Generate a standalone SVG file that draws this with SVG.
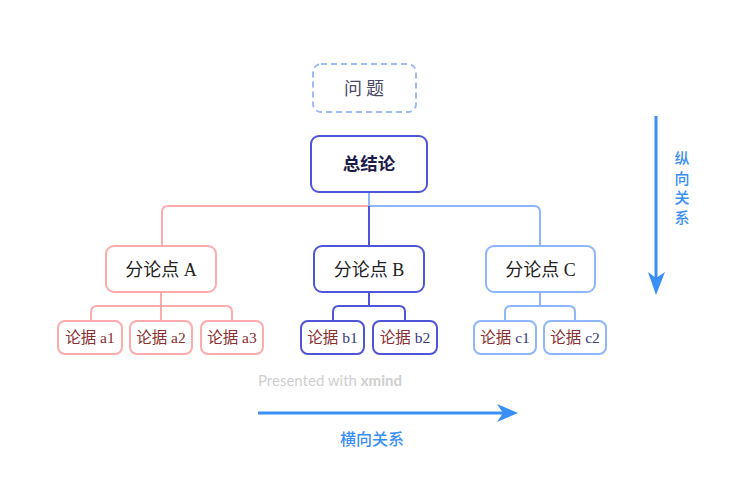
<svg xmlns="http://www.w3.org/2000/svg" width="752" height="492" viewBox="0 0 752 492">
<style>
.box{fill:#fff;stroke-width:2}
.pink{stroke:#ffabab}
.lblue{stroke:#8db6ff}
.indigo{stroke:#4f55d8}
.conn{fill:none;stroke-width:2}
.mid{font-family:"Liberation Serif","Noto Sans CJK SC",serif;font-size:18px;fill:#222;text-anchor:middle}
.leaf{font-family:"Liberation Serif","Noto Sans CJK SC",serif;font-size:15.5px;text-anchor:middle}
.cn{fill:#8a2e2e}
.lat{fill:#363a7a}
.blue{fill:#3a8ff7}
</style>
<rect width="752" height="492" fill="#fff"/>
<g id="connectors">
<path class="conn pink" d="M369,206 H168 Q162,206 162,212 V246"/>
<path class="conn lblue" d="M369,192 V206 H534 Q540,206 540,212 V246"/>
<path class="conn indigo" d="M369,206 V246"/>
<path class="conn pink" d="M161,292 V306 M161,306 H97 Q91,306 91,312 V321 M161,306 H226 Q232,306 232,312 V321 M161,306 V321"/>
<path class="conn indigo" d="M369,292 V306 M369,306 H339 Q333,306 333,312 V321 M369,306 H399 Q405,306 405,312 V321"/>
<path class="conn lblue" d="M540,292 V306 M540,306 H511 Q505,306 505,312 V321 M540,306 H569 Q575,306 575,312 V321"/>
</g>
<g id="question">
<rect x="313" y="64" width="103" height="48" rx="8" fill="#fff" stroke="#9dbcf5" stroke-width="2" stroke-dasharray="6,4"/>
<text x="366" y="95" font-family="'Noto Sans CJK SC',sans-serif" font-size="18" fill="#4a4a68" text-anchor="middle" letter-spacing="4">问题</text>
</g>
<g id="conclusion">
<rect class="box indigo" x="311" y="136" width="116" height="56" rx="8"/>
<text x="369" y="170" font-family="'Noto Sans CJK SC',sans-serif" font-size="17.5" font-weight="bold" fill="#1c1c48" text-anchor="middle">总结论</text>
</g>
<g id="pointA">
<rect class="box pink" x="106" y="246" width="110" height="46" rx="8"/>
<text class="mid" x="161" y="276">分论点 A</text>
</g>
<g id="pointB">
<rect class="box indigo" x="314" y="246" width="110" height="46" rx="8"/>
<text class="mid" x="369" y="276">分论点 B</text>
</g>
<g id="pointC">
<rect class="box lblue" x="486" y="246" width="109" height="46" rx="8"/>
<text class="mid" x="540.5" y="276">分论点 C</text>
</g>
<g id="a1">
<rect class="box pink" x="58" y="321" width="64" height="33" rx="7"/>
<text class="leaf" x="90" y="343"><tspan class="cn">论据 a1</tspan></text>
</g>
<g id="a2">
<rect class="box pink" x="130" y="321" width="62" height="33" rx="7"/>
<text class="leaf" x="161" y="343"><tspan class="cn">论据 a2</tspan></text>
</g>
<g id="a3">
<rect class="box pink" x="201" y="321" width="62" height="33" rx="7"/>
<text class="leaf" x="232" y="343"><tspan class="cn">论据 a3</tspan></text>
</g>
<g id="b1">
<rect class="box indigo" x="301" y="321" width="63" height="33" rx="7"/>
<text class="leaf" x="332.5" y="343"><tspan class="cn">论据 </tspan><tspan class="lat">b1</tspan></text>
</g>
<g id="b2">
<rect class="box indigo" x="373" y="321" width="64" height="33" rx="7"/>
<text class="leaf" x="405" y="343"><tspan class="cn">论据 </tspan><tspan class="lat">b2</tspan></text>
</g>
<g id="c1">
<rect class="box lblue" x="474" y="321" width="62" height="33" rx="7"/>
<text class="leaf" x="505" y="343"><tspan class="cn">论据 </tspan><tspan class="lat">c1</tspan></text>
</g>
<g id="c2">
<rect class="box lblue" x="544" y="321" width="62" height="33" rx="7"/>
<text class="leaf" x="575" y="343"><tspan class="cn">论据 </tspan><tspan class="lat">c2</tspan></text>
</g>
<g id="watermark">
<text x="258" y="386" font-family="Lato,'Open Sans',sans-serif" font-size="15" fill="#cfcfcf">Presented with <tspan font-weight="bold">xmind</tspan></text>
</g>
<g id="vertical-arrow">
<line x1="656" y1="116" x2="656" y2="280" stroke="#3a8ff7" stroke-width="3"/>
<path d="M648,272 L656,295 L665,272 L656,278 Z" fill="#3a8ff7"/>
<text x="682" y="151" style="writing-mode:vertical-rl" font-family="'Noto Sans CJK SC',sans-serif" font-size="15" font-weight="500" letter-spacing="4.5" class="blue">纵向关系</text>
</g>
<g id="horizontal-arrow">
<line x1="258" y1="413" x2="505" y2="413" stroke="#3a8ff7" stroke-width="3"/>
<path d="M497,404 L518,413 L497,422 L503,413 Z" fill="#3a8ff7"/>
<text x="372" y="445" font-family="'Noto Sans CJK SC',sans-serif" font-size="16" font-weight="500" fill="#3a8ff7" text-anchor="middle">横向关系</text>
</g>
</svg>
